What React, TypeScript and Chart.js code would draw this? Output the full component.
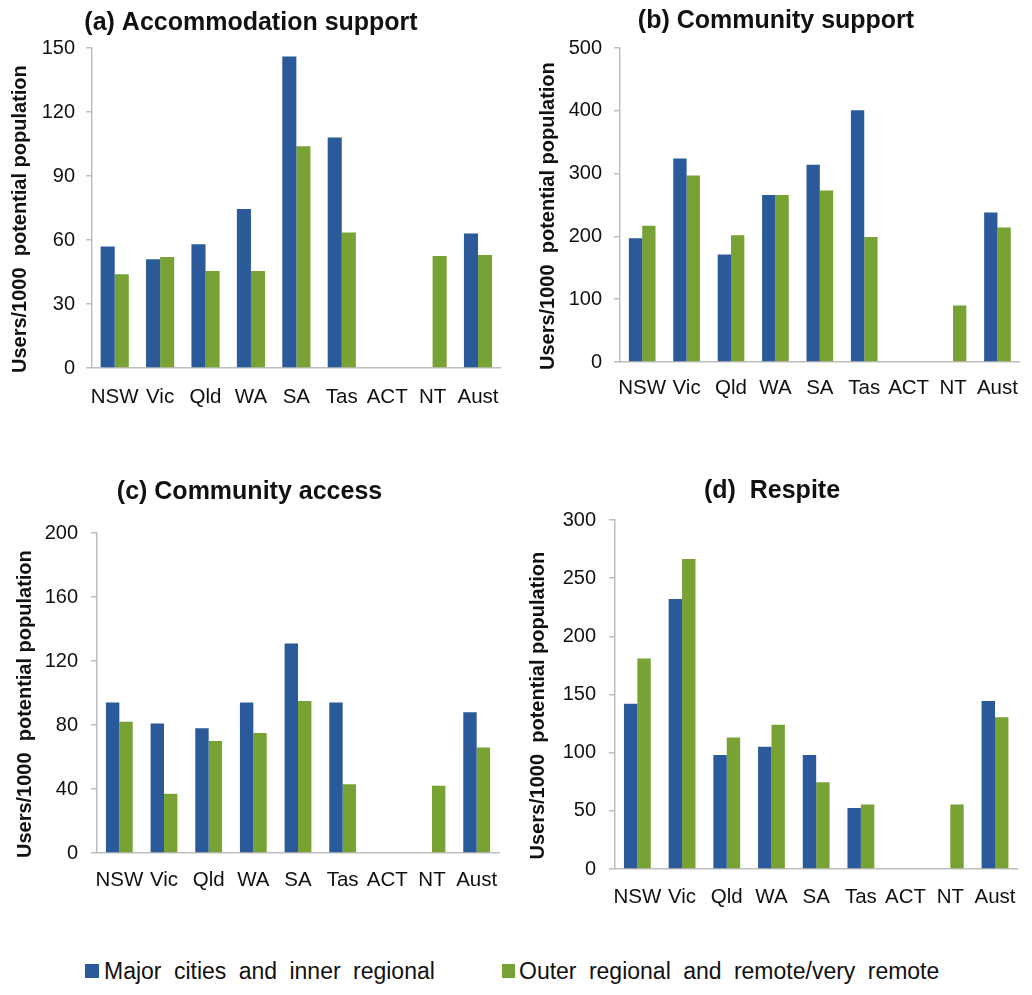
import React, { useEffect, useRef } from 'react';
import { Chart, registerables } from 'chart.js';

Chart.register(...registerables);

const categories = ['NSW', 'Vic', 'Qld', 'WA', 'SA', 'Tas', 'ACT', 'NT', 'Aust'];
const seriesNames = ['Major cities and inner regional', 'Outer regional and remote/very remote'];

const accomMajor = [57, 51, 58, 74.5, 146, 108, null, null, 63];
const accomOuter = [44, 52, 45.5, 45.5, 104, 63.5, null, 52.5, 53];
const commSupportMajor = [197, 324, 171, 266, 314, 401, null, null, 238];
const commSupportOuter = [217, 297, 202, 266, 273, 199, null, 90, 214];
const commAccessMajor = [94, 81, 78, 94, 131, 94, null, null, 88];
const commAccessOuter = [82, 37, 70, 75, 95, 43, null, 42, 66];
const respiteMajor = [142, 232, 98, 105, 98, 52.5, null, null, 144.5];
const respiteOuter = [181, 266.5, 113, 124, 74.5, 55.5, null, 55.5, 130.5];

const yTitle = 'Users/1000  potential population    ';
const FONT = '"Liberation Sans", Arial, Helvetica, sans-serif';
const BLUE = '#2A5A9A';
const GREEN = '#78A234';
const AXIS = '#BEBEBE';
const TEXT = '#111111';

const TITLE_SIZE = 25;
const YTITLE_SIZE = 20;
const TICK_SIZE = 20;
const XLABEL_SIZE = 20.5;

type Panel = {
  title: string;
  major: (number | null)[];
  outer: (number | null)[];
  max: number;
  step: number;
  box: { left: number; top: number; width: number; height: number };
  area: { left: number; top: number; right: number; bottom: number };
  padLeft: number;
  titleY: number;
  yTitleX: number;
  yTickPad: number;
  xLabelY: number;
  catPct: number;
};

const panels: Panel[] = [
  {
    title: '(a) Accommodation support', major: accomMajor, outer: accomOuter, max: 150, step: 30,
    box: { left: 0, top: 0, width: 516, height: 440 },
    area: { left: 92, top: 48, right: 502, bottom: 368 },
    padLeft: 0, titleY: 23, yTitleX: 20, yTickPad: 11, xLabelY: 397, catPct: 0.62,
  },
  {
    title: '(b) Community support', major: commSupportMajor, outer: commSupportOuter, max: 500, step: 100,
    box: { left: 516, top: 0, width: 516, height: 440 },
    area: { left: 620, top: 48, right: 1026, bottom: 362 },
    padLeft: 10, titleY: 21, yTitleX: 548, yTickPad: 12, xLabelY: 388, catPct: 0.6,
  },
  {
    title: '(c) Community access', major: commAccessMajor, outer: commAccessOuter, max: 200, step: 40,
    box: { left: 0, top: 460, width: 516, height: 470 },
    area: { left: 97, top: 533, right: 499, bottom: 853 },
    padLeft: 0, titleY: 492, yTitleX: 25, yTickPad: 13, xLabelY: 880, catPct: 0.6,
  },
  {
    title: '(d)  Respite', major: respiteMajor, outer: respiteOuter, max: 300, step: 50,
    box: { left: 516, top: 460, width: 516, height: 470 },
    area: { left: 615, top: 520, right: 1018, bottom: 869 },
    padLeft: 10, titleY: 491, yTitleX: 538, yTickPad: 13, xLabelY: 897, catPct: 0.6,
  },
];

function BarPanel({ p }: { p: Panel }) {
  const ref = useRef<HTMLCanvasElement | null>(null);
  useEffect(() => {
    if (!ref.current) return;
    const titleLH = TITLE_SIZE * 1.2;
    const yLH = YTITLE_SIZE * 1.2;
    const xLH = XLABEL_SIZE * 1.2;
    const tTop = p.titleY - p.box.top - titleLH / 2;
    const tBottom = p.area.top - p.box.top - tTop - titleLH;
    const yTitlePad = Math.max(0, p.yTitleX - p.box.left - p.padLeft - yLH / 2);
    const xPad = p.xLabelY - p.area.bottom - xLH / 2;
    const chart = new Chart(ref.current, {
      type: 'bar',
      data: {
        labels: categories,
        datasets: [
          { label: seriesNames[0], data: p.major, backgroundColor: BLUE, borderWidth: 0, categoryPercentage: p.catPct, barPercentage: 1 },
          { label: seriesNames[1], data: p.outer, backgroundColor: GREEN, borderWidth: 0, categoryPercentage: p.catPct, barPercentage: 1 },
        ],
      },
      options: {
        animation: false,
        responsive: false,
        maintainAspectRatio: false,
        layout: {
          padding: {
            left: p.padLeft,
            right: p.box.left + p.box.width - p.area.right,
            top: 0,
            bottom: 0,
          },
        },
        plugins: {
          legend: { display: false },
          tooltip: { enabled: false },
          title: {
            display: true,
            text: p.title,
            color: TEXT,
            font: { family: FONT, size: TITLE_SIZE, weight: 'bold' },
            padding: { top: tTop, bottom: tBottom },
          },
        },
        scales: {
          x: {
            grid: { display: false, drawTicks: false },
            border: { display: true, color: AXIS, width: 1.5 },
            ticks: { color: TEXT, font: { family: FONT, size: XLABEL_SIZE }, padding: xPad, maxRotation: 0, autoSkip: false },
            afterFit: (s: any) => { s.height = p.box.top + p.box.height - p.area.bottom; },
          },
          y: {
            min: 0,
            max: p.max,
            grid: { drawOnChartArea: false, drawTicks: true, tickLength: 6, color: AXIS, lineWidth: 1.5 },
            border: { display: true, color: AXIS, width: 1.5 },
            ticks: { stepSize: p.step, color: TEXT, font: { family: FONT, size: TICK_SIZE }, padding: p.yTickPad },
            title: {
              display: true,
              text: yTitle,
              color: TEXT,
              font: { family: FONT, size: YTITLE_SIZE, weight: 'bold' },
              padding: { top: yTitlePad, bottom: 0 },
            },
            afterFit: (s: any) => { s.width = p.area.left - p.box.left - p.padLeft; },
          },
        },
      } as any,
    });
    return () => chart.destroy();
  }, [p]);
  return (
    <canvas
      ref={ref}
      width={p.box.width}
      height={p.box.height}
      style={{ position: 'absolute', left: p.box.left, top: p.box.top, width: p.box.width, height: p.box.height }}
    />
  );
}

export default function App() {
  const legendText: React.CSSProperties = {
    position: 'absolute',
    top: 960,
    fontFamily: FONT,
    fontSize: 23,
    lineHeight: '23px',
    color: TEXT,
    wordSpacing: 6,
    whiteSpace: 'nowrap',
  };
  return (
    <div style={{ position: 'absolute', left: 0, top: 0, width: 1032, height: 995, background: '#fff', overflow: 'hidden' }}>
      {panels.map((p, i) => (
        <BarPanel key={i} p={p} />
      ))}
      <div style={{ position: 'absolute', left: 85, top: 964, width: 14, height: 14, background: BLUE }} />
      <div style={{ ...legendText, left: 104 }}>{seriesNames[0]}</div>
      <div style={{ position: 'absolute', left: 502, top: 964, width: 13, height: 14, background: GREEN }} />
      <div style={{ ...legendText, left: 519 }}>{seriesNames[1]}</div>
    </div>
  );
}
